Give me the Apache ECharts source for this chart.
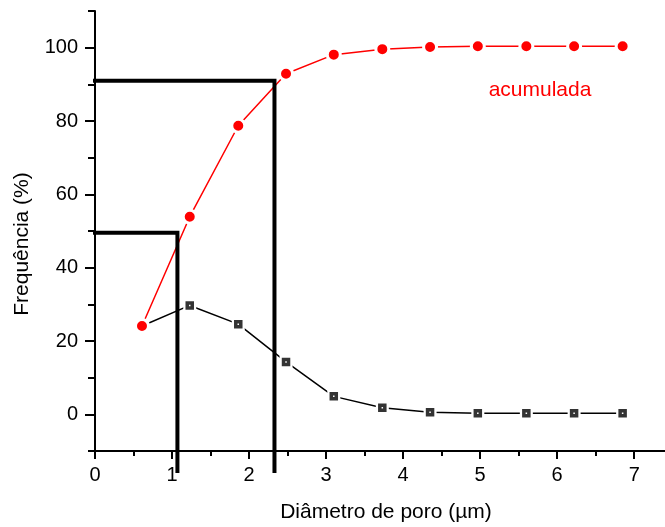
<!DOCTYPE html>
<html>
<head>
<meta charset="utf-8">
<script src="https://cdn.jsdelivr.net/npm/echarts@6/dist/echarts.min.js"></script>
<style>
  html, body { margin: 0; padding: 0; background: #fff; }
  #chart { width: 665px; height: 527px; }
</style>
</head>
<body>
<div id="chart"></div>
<script>
// pore diameter (um)
const diameters = [0.61, 1.23, 1.86, 2.48, 3.10, 3.73, 4.35, 4.97, 5.60, 6.22, 6.85]
// frequency per class (%)
const frequency = [24.1, 29.7, 24.6, 14.3, 4.9, 1.8, 0.6, 0.3, 0.3, 0.3, 0.3]
// cumulative (%)
const cumulative = [24.1, 53.9, 78.7, 92.9, 98.1, 99.6, 100.2, 100.4, 100.4, 100.4, 100.4]

// reading guides (d50 / d90)
const guide50 = [[-0.17, 49.5], [1.07, 49.5], [1.07, -16]]
const guide90 = [[-0.17, 91], [2.33, 91], [2.33, -16]]

const xTicks = [0, 1, 2, 3, 4, 5, 6, 7]
const xMinorTicks = [0.5, 1.5, 2.5, 3.5, 4.5, 5.5, 6.5]
const yTicks = [0, 20, 40, 60, 80, 100]
const yMinorTicks = [-10, 10, 30, 50, 70, 90, 110]

const font = 'Liberation Sans, Arial, sans-serif'
const pts = (xs, ys) => xs.map((x, i) => [x, ys[i]])

const chart = echarts.init(document.getElementById('chart'))

const tickStyle = { color: '#000', width: 2 }

chart.setOption({
  animation: false,
  grid: { left: 95, right: 0, top: 11, bottom: 76 },
  xAxis: [{
    type: 'value', min: 0, max: 7.4,
    axisLine: { onZero: false, lineStyle: { color: '#000', width: 2 } },
    axisTick: { customValues: xTicks, length: 8, lineStyle: tickStyle },
    axisLabel: { customValues: xTicks, margin: 14, color: '#000', fontSize: 20, fontFamily: font },
    splitLine: { show: false }
  }, {
    type: 'value', min: 0, max: 7.4, position: 'bottom',
    axisLine: { show: false, onZero: false },
    axisTick: { customValues: xMinorTicks, length: 5, lineStyle: tickStyle },
    axisLabel: { show: false },
    splitLine: { show: false }
  }],
  yAxis: [{
    type: 'value', min: -10, max: 110,
    axisLine: { show: true, onZero: false, lineStyle: { color: '#000', width: 2 } },
    axisTick: { show: true, customValues: yTicks, length: 10, lineStyle: tickStyle },
    axisLabel: { customValues: yTicks, margin: 17, color: '#000', fontSize: 20, fontFamily: font },
    splitLine: { show: false }
  }, {
    type: 'value', min: -10, max: 110, position: 'left',
    axisLine: { show: false, onZero: false },
    axisTick: { show: true, customValues: yMinorTicks, length: 7, lineStyle: tickStyle },
    axisLabel: { show: false },
    splitLine: { show: false }
  }],
  graphic: [{
    type: 'text', x: 386, y: 512,
    style: { text: 'Diâmetro de poro (µm)', fill: '#000', font: '21px ' + font, textAlign: 'center', textVerticalAlign: 'middle' }
  }, {
    type: 'text', x: 22, y: 244, rotation: Math.PI / 2,
    style: { text: 'Frequência (%)', fill: '#000', font: '21px ' + font, textAlign: 'center', textVerticalAlign: 'middle' }
  }, {
    type: 'text', x: 540, y: 90,
    style: { text: 'acumulada', fill: '#ff0000', font: '21px ' + font, textAlign: 'center', textVerticalAlign: 'middle' }
  }],
  series: [{
    // frequency line, white symbols leave gaps round the markers
    type: 'line',
    data: pts(diameters, frequency),
    lineStyle: { color: '#000', width: 1.5 },
    symbol: 'rect', symbolSize: 13,
    itemStyle: { color: '#fff' },
    z: 2
  }, {
    type: 'scatter',
    data: pts(diameters, frequency),
    symbol: 'rect', symbolSize: 5,
    itemStyle: { color: '#fff', borderColor: '#000', borderWidth: 3.5 },
    z: 3
  }, {
    type: 'line',
    data: pts(diameters, cumulative),
    lineStyle: { color: '#ff0000', width: 1.5 },
    symbol: 'circle', symbolSize: 13,
    itemStyle: { color: '#ff0000', borderColor: '#fff', borderWidth: 3 },
    z: 4
  }, {
    type: 'line',
    data: guide50,
    clip: false,
    symbol: 'none',
    lineStyle: { color: '#000', width: 4, join: 'miter' },
    z: 5
  }, {
    type: 'line',
    data: guide90,
    clip: false,
    symbol: 'none',
    lineStyle: { color: '#000', width: 4, join: 'miter' },
    z: 5
  }]
})
</script>
</body>
</html>
